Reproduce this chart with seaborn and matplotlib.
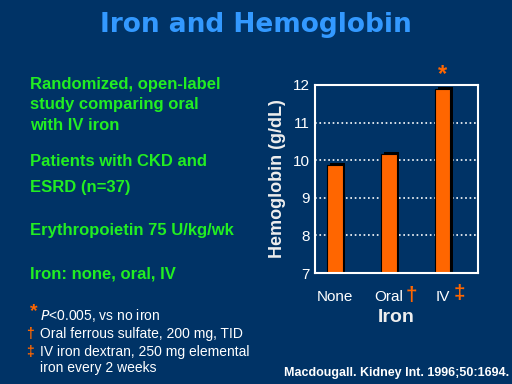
import pandas as pd
import seaborn as sns
import matplotlib.pyplot as plt
from matplotlib import patheffects

# 데이터
groups = ['None', 'Oral', 'IV']
hemoglobin = [9.87, 10.16, 11.89]
marks = ['', '\u2020', '\u2021']

bg = '#003366'
green = '#22ee22'
orange = '#ff6600'

sns.set_style('dark')
plt.rcParams['font.family'] = ['Liberation Sans', 'DejaVu Sans']

df = pd.DataFrame({'group': groups, 'hb': hemoglobin})

fig = plt.figure(figsize=(5.12, 3.84), dpi=100, facecolor=bg)
ax = fig.add_axes([315 / 512, 1 - 273 / 384, 163 / 512, 188 / 384])
ax.set_facecolor(bg)

sns.barplot(x='group', y='hb', data=df, color=orange, width=0.28,
            saturation=1, edgecolor='black', linewidth=0.8, ax=ax)
for p in ax.patches:
    p.set_path_effects([patheffects.SimplePatchShadow(offset=(2, 1.5), shadow_rgbFace='black', alpha=1),
                        patheffects.Normal()])

ax.set_ylim(7, 12)
ax.set_xlim(-0.37, 2.65)
ax.set_yticks([7, 8, 9, 10, 11, 12])
ax.yaxis.grid(True, color='white', linestyle=':', linewidth=1.2)
ax.xaxis.grid(False)
ax.set_axisbelow(True)
for s in ax.spines.values():
    s.set_visible(True)
    s.set_color('white')
    s.set_linewidth(1.5)
ax.tick_params(axis='y', colors='white', labelsize=11, length=0, pad=4)
ax.tick_params(axis='x', colors='white', labelsize=11, length=0, pad=12)
ax.set_xticks([0, 1, 2])
ax.set_xticklabels(groups)
ax.set_xlabel('Iron', color='#eeeeee', fontsize=14, fontweight='bold', labelpad=4)
ax.set_ylabel('Hemoglobin (g/dL)', color='#eeeeee', fontsize=13, fontweight='bold', labelpad=5)

# 각주 기호 (픽셀 위치)
fig.text(411 / 512, 1 - 296 / 384, marks[1], color=orange, fontsize=15, fontweight='bold', ha='center', va='center')
fig.text(459 / 512, 1 - 294 / 384, marks[2], color=orange, fontsize=15, fontweight='bold', ha='center', va='center')
ax.text(2.0, 12.28, '*', color=orange, fontsize=17, fontweight='bold', ha='center', va='center', clip_on=False)

# 제목
fig.text(0.5, 1 - 25 / 384, 'Iron and Hemoglobin', color='#3399ff', fontsize=19,
         fontweight='bold', ha='center', va='center', family='DejaVu Sans')

# 왼쪽 설명
lines = [(84, 'Randomized, open-label'), (105, 'study comparing oral'), (125, 'with IV iron'),
         (162, 'Patients with CKD and'), (188, 'ESRD (n=37)'),
         (231, 'Erythropoietin 75 U/kg/wk'), (274, 'Iron: none, oral, IV')]
for y, t in lines:
    fig.text(30 / 512, 1 - y / 384, t, color=green, fontsize=12, fontweight='bold', va='center')

fig.text(30 / 512, 1 - 312 / 384, '*', color=orange, fontsize=14, fontweight='bold', va='center')
fig.text(40 / 512, 1 - 315 / 384, '$\\mathit{P}$<0.005, vs no iron', color='white', fontsize=10, va='center')
fig.text(30 / 512, 1 - 334 / 384, '\u2020', color=orange, fontsize=10, fontweight='bold', ha='center', va='center')
fig.text(40 / 512, 1 - 334 / 384, 'Oral ferrous sulfate, 200 mg, TID', color='white', fontsize=10, va='center')
fig.text(30 / 512, 1 - 352 / 384, '\u2021', color=orange, fontsize=10, fontweight='bold', ha='center', va='center')
fig.text(40 / 512, 1 - 352 / 384, 'IV iron dextran, 250 mg elemental', color='white', fontsize=10, va='center')
fig.text(40 / 512, 1 - 368 / 384, 'iron every 2 weeks', color='white', fontsize=10, va='center')

fig.text(509 / 512, 1 - 373 / 384, 'Macdougall. Kidney Int. 1996;50:1694.', color='white',
         fontsize=9, fontweight='bold', ha='right', va='center')

fig.savefig('out.png', dpi=100, facecolor=bg)
